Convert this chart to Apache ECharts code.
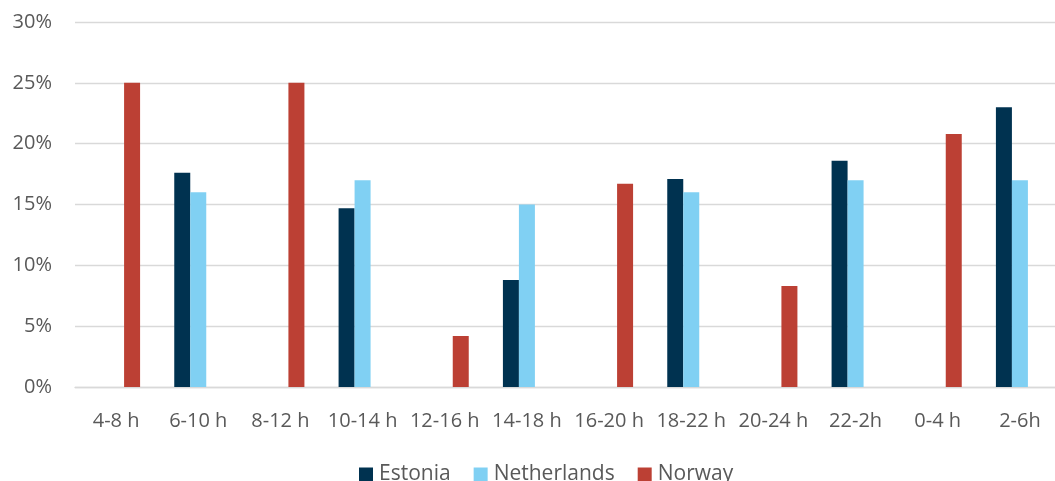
<!DOCTYPE html>
<html>
<head>
<meta charset="utf-8">
<script src="https://cdn.jsdelivr.net/npm/echarts@6/dist/echarts.min.js"></script>
<style>
  html, body { margin: 0; padding: 0; background: #ffffff; overflow: hidden; }
  /* the plot area runs a few pixels past the right edge of the window */
  #chart { width: 1061px; height: 481px; }
</style>
</head>
<body>
<div id="chart"></div>
<script>
// Time-of-day windows (categories)
const categories = ['4-8 h', '6-10 h', '8-12 h', '10-14 h', '12-16 h', '14-18 h',
                    '16-20 h', '18-22 h', '20-24 h', '22-2h', '0-4 h', '2-6h'];

// Shares in percent; null where a country has no value for that window
const estonia     = [null, 17.6, null, 14.7, null, 8.8, null, 17.1, null, 18.6, null, 23.0];
const netherlands = [null, 16.0, null, 17.0, null, 15.0, null, 16.0, null, 17.0, null, 17.0];
const norway      = [25.0, null, 25.0, null, 4.2, null, 16.7, null, 8.3, null, 20.8, null];

const seriesNames = ['Estonia', 'Netherlands', 'Norway'];
const yTicks = [0, 5, 10, 15, 20, 25, 30];

const colors = ['#003250', '#80D0F3', '#BC4034'];
const textColor = '#595959';
const fontFamily = '"Open Sans", "Noto Sans", sans-serif';

const chart = echarts.init(document.getElementById('chart'), null, { renderer: 'canvas' });

chart.setOption({
  animation: false,
  backgroundColor: '#ffffff',
  color: colors,
  grid: { left: 75, top: 22, right: 0, bottom: 94, containLabel: false },
  legend: {
    data: seriesNames,
    left: 359,
    top: 464,
    padding: 0,
    itemWidth: 14,
    itemHeight: 14,
    itemGap: 23,
    icon: 'rect',
    textStyle: { color: textColor, fontSize: 21, fontFamily: fontFamily, padding: [0, 0, 0, 1] }
  },
  xAxis: {
    type: 'category',
    data: categories,
    axisTick: { show: false },
    axisLine: { show: true, lineStyle: { color: '#d9d9d9', width: 1.3 } },
    axisLabel: { color: textColor, fontSize: 20, fontFamily: fontFamily, margin: 24, interval: 0 }
  },
  yAxis: {
    type: 'value',
    min: yTicks[0],
    max: yTicks[yTicks.length - 1],
    interval: 5,
    axisLine: { show: false },
    axisTick: { show: false },
    splitLine: { lineStyle: { color: '#d9d9d9', width: 1.3 } },
    axisLabel: { color: textColor, fontSize: 20, fontFamily: fontFamily, margin: 23, formatter: '{value}%' }
  },
  series: [
    { name: seriesNames[0], type: 'bar', data: estonia, barWidth: 16, barGap: '0%' },
    { name: seriesNames[1], type: 'bar', data: netherlands, barWidth: 16, barGap: '0%' },
    { name: seriesNames[2], type: 'bar', data: norway, barWidth: 16, barGap: '0%' }
  ]
});
</script>
</body>
</html>
